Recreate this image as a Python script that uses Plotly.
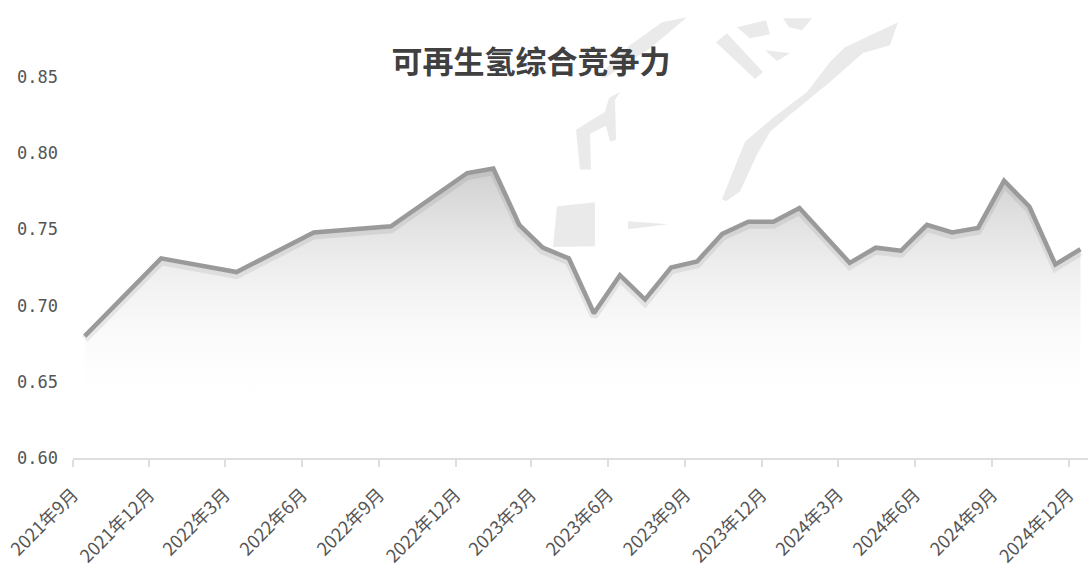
import plotly.graph_objects as go

# Monthly index values (points dated mid-month)
months = [
    "2021-09", "2021-12", "2022-03", "2022-06", "2022-09", "2022-12",
    "2023-01", "2023-02", "2023-03", "2023-04", "2023-05", "2023-06",
    "2023-07", "2023-08", "2023-09", "2023-10", "2023-11", "2023-12",
    "2024-01", "2024-03", "2024-04", "2024-05", "2024-06", "2024-07",
    "2024-08", "2024-09", "2024-10", "2024-11", "2024-12",
]
competitiveness = [
    0.680, 0.731, 0.722, 0.748, 0.752, 0.787,
    0.790, 0.753, 0.738, 0.731, 0.695, 0.720,
    0.704, 0.725, 0.729, 0.747, 0.755, 0.755,
    0.764, 0.728, 0.738, 0.736, 0.753, 0.748,
    0.751, 0.782, 0.765, 0.727, 0.737,
]

# Quarterly axis ticks
tick_months = [
    "2021-09", "2021-12", "2022-03", "2022-06", "2022-09", "2022-12",
    "2023-03", "2023-06", "2023-09", "2023-12", "2024-03", "2024-06",
    "2024-09", "2024-12",
]
tick_labels = [
    "2021年9月", "2021年12月", "2022年3月", "2022年6月", "2022年9月",
    "2022年12月", "2023年3月", "2023年6月", "2023年9月", "2023年12月",
    "2024年3月", "2024年6月", "2024年9月", "2024年12月",
]
y_ticks = [0.60, 0.65, 0.70, 0.75, 0.80, 0.85]

title_text = "可再生氢综合竞争力"

W, H = 1088, 567
ML, MR, MT, MB = 73, 0, 77, 107
Y_RANGE = [0.60, 0.85]
SHADOW_PX = 3  # downward offset of the line shadow, in pixels

x_dates = [m + "-15" for m in months]
tick_dates = [m + "-01" for m in tick_months]


def to_paper(px, py):
    """Convert page pixel position to paper coordinates."""
    return (px - ML) / (W - ML - MR), (H - MB - py) / (H - MT - MB)


def poly_path(points):
    pts = [to_paper(x, y) for x, y in points]
    return "M " + " L ".join(f"{x:.4f},{y:.4f}" for x, y in pts) + " Z"


# Faint background watermark logo pieces (page pixel outlines)
watermark = [
    # long sweeping blade
    [(722, 200), (733, 172), (745, 142), (773, 118), (807, 92), (830, 62),
     (845, 47), (898, 22), (890, 45), (863, 53), (830, 82), (790, 115),
     (770, 132), (757, 155), (740, 192), (726, 202)],
    [(783, 18), (812, 18), (802, 30), (789, 27)],
    # stroke behind the title
    [(662, 22), (687, 17), (650, 48), (605, 78), (598, 76), (630, 45)],
    # rotated letter form
    [(716, 42), (727, 33), (763, 72), (755, 79)],
    [(737, 27), (766, 20), (770, 34), (750, 38)],
    [(765, 50), (790, 53), (777, 61)],
    # bracket form
    [(620, 92), (615, 100), (616, 140), (610, 142), (606, 126), (590, 134),
     (591, 170), (580, 170), (576, 130), (605, 112), (609, 98)],
    # block and wedge
    [(557, 207), (595, 203), (595, 247), (553, 248)],
    [(628, 222), (668, 225), (628, 230)],
]
shapes = [
    dict(type="path", path=poly_path(p), xref="paper", yref="paper",
         fillcolor="#eaeaea", line=dict(width=0), layer="below")
    for p in watermark
]

span = Y_RANGE[1] - Y_RANGE[0]
shift = SHADOW_PX / (H - MT - MB) * span

fig = go.Figure()

# gradient area under the curve
fig.add_trace(go.Scatter(
    x=x_dates, y=competitiveness, mode="lines",
    line=dict(width=0),
    fill="tozeroy",
    fillgradient=dict(
        type="vertical",
        start=0.63, stop=0.80,
        colorscale=[[0, "rgba(255,255,255,0)"], [1, "rgba(198,198,198,0.95)"]],
    ),
    hoverinfo="skip", showlegend=False,
))

# soft shadow under the line (same data on a slightly shifted axis)
fig.add_trace(go.Scatter(
    x=x_dates, y=competitiveness, mode="lines", yaxis="y2",
    line=dict(color="rgba(0,0,0,0.07)", width=8),
    hoverinfo="skip", showlegend=False,
))

# the line itself
fig.add_trace(go.Scatter(
    x=x_dates, y=competitiveness, mode="lines", yaxis="y3",
    line=dict(color="#9a9a9a", width=4.5),
    showlegend=False,
))

fig.update_layout(
    width=W, height=H,
    margin=dict(l=ML, r=MR, t=MT, b=MB),
    paper_bgcolor="white",
    plot_bgcolor="rgba(0,0,0,0)",
    shapes=shapes,
    title=dict(
        text=title_text,
        x=531 / W, xanchor="center",
        y=1 - 62 / H, yanchor="middle",
        font=dict(family="Noto Sans CJK SC", size=31, color="#404040", weight=700),
    ),
    xaxis=dict(
        type="date",
        range=["2021-09-01", "2024-12-24"],
        tickvals=tick_dates, ticktext=tick_labels,
        tickangle=-45,
        tickfont=dict(family="Noto Sans CJK SC", size=18, color="#555555"),
        showgrid=False, zeroline=False,
        showline=True, linecolor="#dedede", linewidth=2,
        ticks="outside", ticklen=7, tickwidth=2, tickcolor="#dedede",
        ticklabelstandoff=10,
    ),
    yaxis=dict(
        range=Y_RANGE,
        tickvals=y_ticks,
        tickformat=".2f",
        tickfont=dict(family="DejaVu Sans Mono", size=17, color="#555555"),
        showgrid=False, zeroline=False, showline=False,
        ticklabelstandoff=14,
    ),
    yaxis2=dict(
        range=[Y_RANGE[0] + shift, Y_RANGE[1] + shift],
        overlaying="y", visible=False,
    ),
    yaxis3=dict(
        range=Y_RANGE,
        overlaying="y", visible=False,
    ),
)

fig.write_html("out.html")
